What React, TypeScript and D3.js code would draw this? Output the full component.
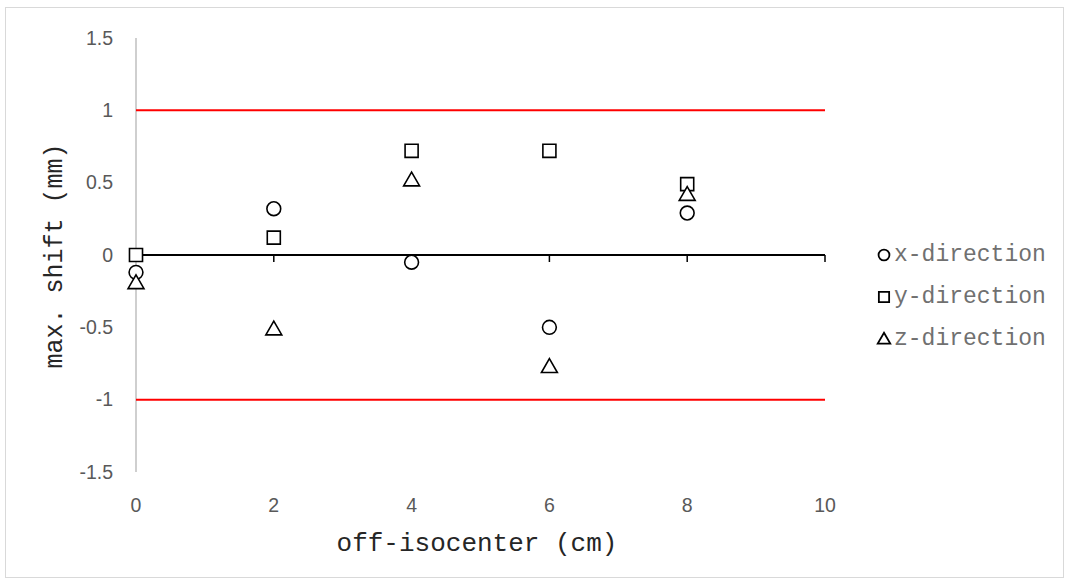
import React, { useEffect, useRef } from 'react';
import * as d3 from 'd3';

const offsets = [0, 2, 4, 6, 8];
const xDirection = [-0.12, 0.32, -0.05, -0.5, 0.29];
const yDirection = [0, 0.12, 0.72, 0.72, 0.49];
const zDirection = [-0.19, -0.51, 0.52, -0.77, 0.42];
const seriesNames = ['x-direction', 'y-direction', 'z-direction'];
const xTicks = [0, 2, 4, 6, 8, 10];
const yTicks = [-1.5, -1, -0.5, 0, 0.5, 1, 1.5];
const limits = [1, -1];

const App = () => {
  const svgRef = useRef<SVGSVGElement>(null);

  useEffect(() => {
    const width = 1070;
    const height = 584;
    const svg = d3.select(svgRef.current);
    svg.selectAll('*').remove();

    // chart frame
    svg.append('rect')
      .attr('x', 5.5).attr('y', 7.5)
      .attr('width', 1058).attr('height', 570)
      .attr('fill', '#fff').attr('stroke', '#d9d9d9');

    const x = d3.scaleLinear().domain([0, 10]).range([136, 825]);
    const y = d3.scaleLinear().domain([-1.5, 1.5]).range([472, 38]);

    const tickFont = '"Liberation Sans", Arial, sans-serif';
    const monoFont = '"Liberation Mono", "Courier New", monospace';

    // y axis (gray)
    svg.append('line')
      .attr('x1', x(0)).attr('x2', x(0))
      .attr('y1', y(1.5)).attr('y2', y(-1.5))
      .attr('stroke', '#bfbfbf').attr('stroke-width', 1.5);

    svg.append('g').selectAll('text').data(yTicks).enter().append('text')
      .attr('x', 113).attr('y', d => y(d))
      .attr('dy', '0.35em')
      .attr('text-anchor', 'end')
      .style('font-family', tickFont).style('font-size', '19.5px')
      .attr('fill', '#595959')
      .text(d => String(d));

    // x tick labels
    svg.append('g').selectAll('text').data(xTicks).enter().append('text')
      .attr('x', d => x(d)).attr('y', 505)
      .attr('dy', '0.35em')
      .attr('text-anchor', 'middle')
      .style('font-family', tickFont).style('font-size', '19.5px')
      .attr('fill', '#595959')
      .text(d => String(d));

    // limit lines
    svg.append('g').selectAll('line').data(limits).enter().append('line')
      .attr('x1', x(0)).attr('x2', x(10))
      .attr('y1', d => y(d)).attr('y2', d => y(d))
      .attr('stroke', '#ff0000').attr('stroke-width', 2);

    // x axis at zero (black)
    svg.append('line')
      .attr('x1', x(0)).attr('x2', x(10))
      .attr('y1', y(0)).attr('y2', y(0))
      .attr('stroke', '#000').attr('stroke-width', 2);
    svg.append('g').selectAll('line').data(xTicks).enter().append('line')
      .attr('x1', d => x(d)).attr('x2', d => x(d))
      .attr('y1', y(0)).attr('y2', y(0) + 7)
      .attr('stroke', '#000').attr('stroke-width', 1.5);

    // axis titles
    svg.append('text')
      .attr('transform', `translate(62,256) rotate(-90)`)
      .attr('text-anchor', 'middle')
      .style('font-family', monoFont).style('font-size', '25px')
      .attr('fill', '#262626')
      .text('max. shift (mm)');

    svg.append('text')
      .attr('x', 477).attr('y', 551)
      .attr('text-anchor', 'middle')
      .style('font-family', monoFont).style('font-size', '26px')
      .attr('fill', '#262626')
      .text('off-isocenter (cm)');

    const symbols = [d3.symbolCircle, d3.symbolSquare, d3.symbolTriangle];
    const sizes = [150, 170, 110];
    const series = [xDirection, yDirection, zDirection];

    series.forEach((vals, si) => {
      const sym = d3.symbol().type(symbols[si]).size(sizes[si]);
      svg.append('g').selectAll('path').data(vals).enter().append('path')
        .attr('transform', (d, i) => `translate(${x(offsets[i])},${y(d) + (si === 2 ? 1.5 : 0)})`)
        .attr('d', sym)
        .attr('fill', '#fff')
        .attr('stroke', '#000')
        .attr('stroke-width', 1.6);
    });

    // legend
    const legend = svg.append('g').attr('transform', 'translate(884,255)');
    seriesNames.forEach((name, i) => {
      const sym = d3.symbol().type(symbols[i]).size(sizes[i] * 0.62);
      legend.append('path')
        .attr('transform', `translate(0,${i * 42 + (i === 2 ? 1 : 0)})`)
        .attr('d', sym)
        .attr('fill', '#fff').attr('stroke', '#000').attr('stroke-width', 1.8);
      legend.append('text')
        .attr('x', 10).attr('y', i * 42 - 2)
        .attr('dy', '0.35em')
        .style('font-family', monoFont).style('font-size', '23px')
        .attr('fill', '#707070')
        .text(name);
    });

    svg.attr('width', width).attr('height', height);
  }, []);

  return (
    <div style={{ position: 'absolute', left: 0, top: 0 }}>
      <svg ref={svgRef} width={1070} height={584} style={{ display: 'block' }}></svg>
    </div>
  );
};

export default App;
